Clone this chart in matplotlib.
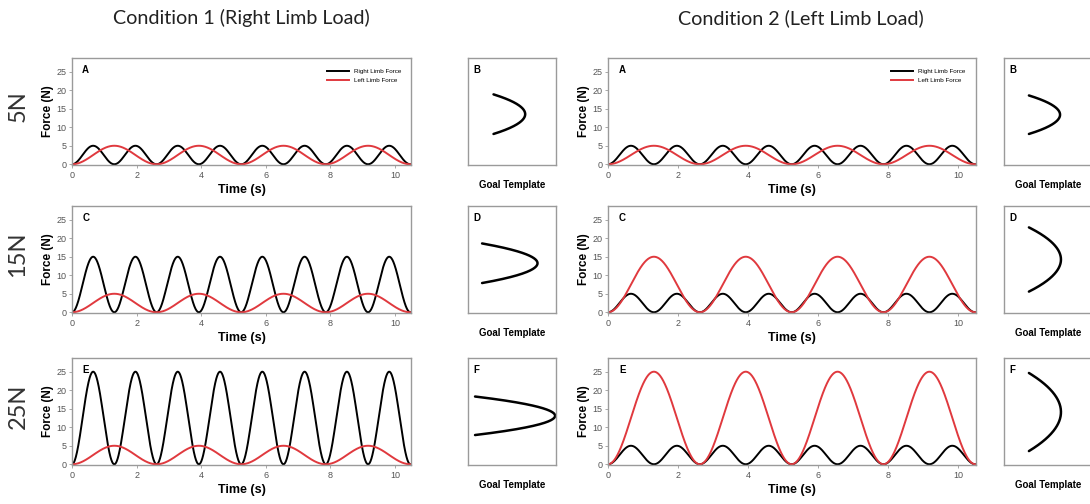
import numpy as np
import matplotlib.pyplot as plt

plt.rcParams['font.family'] = ['Liberation Sans', 'DejaVu Sans']

# peak force (N) of each limb per load row, and cycle lengths (s)
loads = ['5N', '15N', '25N']
right_peak_c1 = [5, 15, 25]
left_peak_c1 = [5, 5, 5]
right_peak_c2 = [5, 5, 5]
left_peak_c2 = [5, 15, 25]
right_cycle = 1.31
left_cycle = 2.62
time_ticks = [0, 2, 4, 6, 8, 10]
force_ticks = [0, 5, 10, 15, 20, 25]
letters = [('A', 'B'), ('C', 'D'), ('E', 'F')]
titles = ['Condition 1 (Right Limb Load)', 'Condition 2 (Left Limb Load)']

RED = '#e0393e'
GREY = '#9a9a9a'
W, H = 1090, 504

fig = plt.figure(figsize=(W / 100, H / 100), dpi=100)


def rect(x0, x1, y0, y1):
    return [x0 / W, 1 - y1 / H, (x1 - x0) / W, (y1 - y0) / H]


def force(peak, cycle, t):
    return peak * np.sin(np.pi * t / cycle) ** 2


def style_spines(ax):
    for s in ax.spines.values():
        s.set_color(GREY)
        s.set_linewidth(1.0)


rows = [(58, 165), (206, 313), (358, 465)]
main_x = [(72, 411), (608, 976)]
tmpl_x = [(468, 556), (1004, 1093)]
title_x = [241, 801]
peaks = [(right_peak_c1, left_peak_c1), (right_peak_c2, left_peak_c2)]
# where the template curve sits inside its box (fractions of box)
tmpl_pos = [
    [(0.29, 0.65, 0.29, 0.66), (0.16, 0.79, 0.28, 0.65), (0.08, 0.99, 0.28, 0.64)],
    [(0.28, 0.63, 0.29, 0.65), (0.28, 0.64, 0.20, 0.80), (0.28, 0.64, 0.13, 0.86)],
]

t = np.linspace(0, 10.5, 1500)
t_half = np.linspace(0, left_cycle / 2, 300)

for c in range(2):
    rp, lp = peaks[c]
    for r in range(3):
        y0, y1 = rows[r]
        ax = fig.add_axes(rect(main_x[c][0], main_x[c][1], y0, y1))
        ax.plot(t, force(rp[r], right_cycle, t), color='black', lw=1.4,
                label='Right Limb Force')
        ax.plot(t, force(lp[r], left_cycle, t), color=RED, lw=1.4,
                label='Left Limb Force')
        ax.set_xlim(0, 10.5)
        ax.set_ylim(-0.2, 28.7)
        ax.set_xticks(time_ticks)
        ax.set_yticks(force_ticks)
        ax.tick_params(labelsize=6.5, colors='#555555', length=2, width=0.6,
                       pad=2)
        ax.tick_params(color=GREY)
        style_spines(ax)
        ax.set_xlabel('Time (s)', fontsize=9, fontweight='bold', labelpad=3)
        ax.set_ylabel('Force (N)', fontsize=8.5, fontweight='bold', labelpad=2)
        ax.text(0.03, 0.93, letters[r][0], transform=ax.transAxes,
                fontsize=7, fontweight='bold', va='top')
        if r == 0:
            ax.legend(loc='upper right', bbox_to_anchor=(0.98, 0.93),
                      frameon=False, fontsize=4.5, handlelength=3.5,
                      labelspacing=0.6, borderpad=0)

        # goal template: right limb force against left limb force
        tx = fig.add_axes(rect(tmpl_x[c][0], tmpl_x[c][1], y0, y1))
        bx = force(rp[r], right_cycle, t_half)
        by = force(lp[r], left_cycle, t_half)
        tx.plot(bx, by, color='black', lw=1.8, solid_capstyle='round')
        fx0, fx1, fy0, fy1 = tmpl_pos[c][r]
        xs = rp[r] / (fx1 - fx0)
        ys = lp[r] / (fy1 - fy0)
        tx.set_xlim(-fx0 * xs, -fx0 * xs + xs)
        tx.set_ylim(-fy0 * ys, -fy0 * ys + ys)
        tx.set_xticks([])
        tx.set_yticks([])
        style_spines(tx)
        tx.text(0.06, 0.93, letters[r][1], transform=tx.transAxes,
                fontsize=7, fontweight='bold', va='top')
        tx.set_xlabel('Goal Template', fontsize=7, fontweight='bold',
                      labelpad=11)

    fig.text(title_x[c] / W, 1 - 18 / H, titles[c], fontsize=14.2,
             family='Lato', color='#222222', ha='center', va='center')

for r, lab in enumerate(loads):
    yc = (rows[r][0] + rows[r][1]) / 2 - 5
    fig.text(18 / W, 1 - yc / H, lab, fontsize=17, family='Lato',
             color='#333333', rotation=90, ha='center', va='center')

fig.savefig('out.png', dpi=100, facecolor='white')
